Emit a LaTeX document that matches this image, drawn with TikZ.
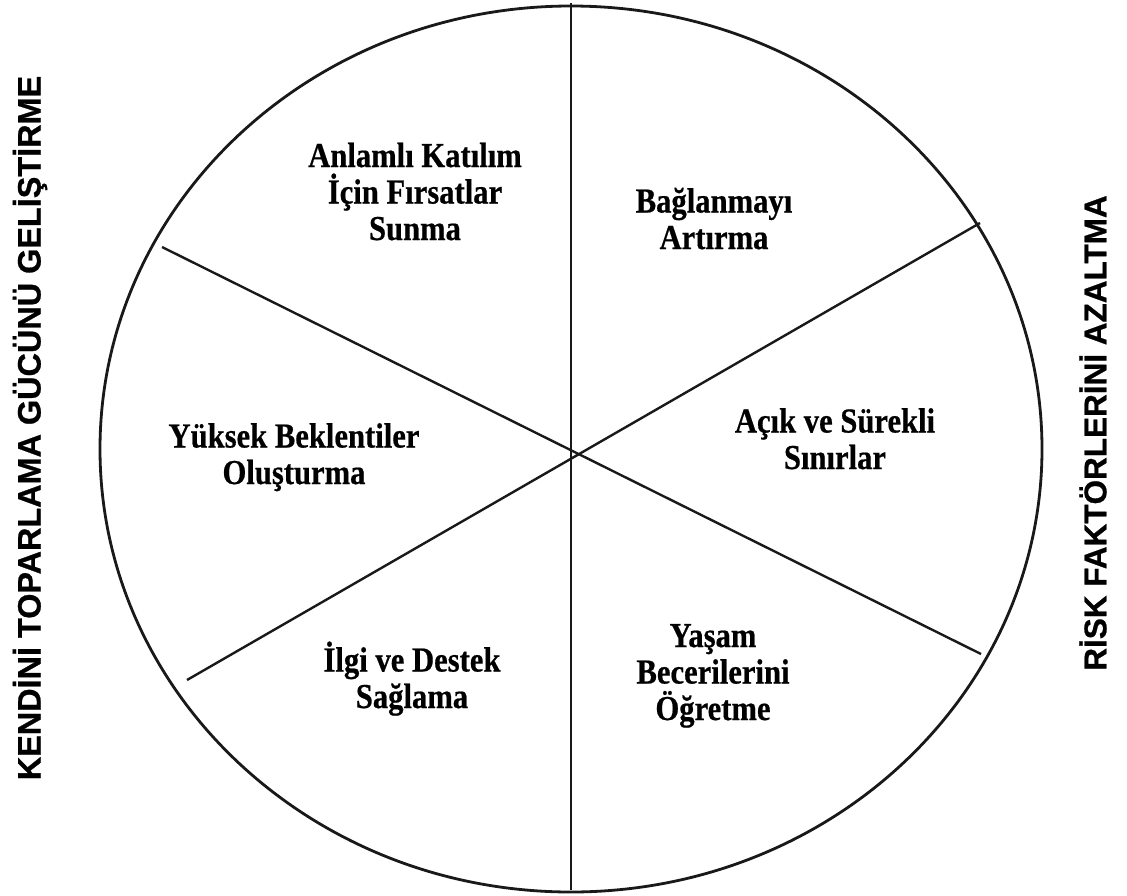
\documentclass[tikz,border=0pt]{standalone}
\usepackage{fontspec}
\usetikzlibrary{shapes.geometric}
\setmainfont{Liberation Serif}[BoldFeatures={FakeBold=0.6}]
\newfontfamily\sidefont{Liberation Sans}[BoldFeatures={FakeBold=0.8}]
\begin{document}
\begin{tikzpicture}[x=1pt,y=-1pt,
  seg/.style={font=\bfseries\fontsize{35}{36.5}\selectfont, align=center, inner sep=0pt, xscale=0.875, transform shape, anchor=base},
  side/.style={font=\sidefont\bfseries\fontsize{31.5}{36}\selectfont, rotate=90, inner sep=0pt},
  rim/.style={draw=black!90, line width=2.8pt},
  spoke/.style={draw=black!90, line width=2.4pt}]
\useasboundingbox (0,0) rectangle (1127,895);
\node[rim, ellipse, minimum width=942pt, minimum height=886pt, inner sep=0pt] (c) at (571,449) {};
\coordinate (vt) at (571,3);
\coordinate (vb) at (571,890);
\coordinate (a1) at (162,247);
\coordinate (a2) at (981,654);
\coordinate (b1) at (187,680);
\coordinate (b2) at (980,223);
\draw[spoke] (vt) -- (vb);
\draw[spoke] (a1) -- (a2);
\draw[spoke] (b1) -- (b2);
\node[seg] (s1) at (415,240) {Anlamlı Katılım\\İçin Fırsatlar\\Sunma};
\node[seg] (s2) at (714,249) {Bağlanmayı\\Artırma};
\node[seg] (s3) at (835,469) {Açık ve Sürekli\\Sınırlar};
\node[seg] (s4) at (294,484) {Yüksek Beklentiler\\Oluşturma};
\node[seg] (s5) at (412,708) {İlgi ve Destek\\Sağlama};
\node[seg] (s6) at (713,720) {Yaşam\\Becerilerini\\Öğretme};
\node[side, font=\sidefont\bfseries\fontsize{32.4}{36}\selectfont] (L) at (30,428) {KENDİNİ TOPARLAMA GÜCÜNÜ GELİŞTİRME};
\node[side] (R) at (1093,433) {RİSK FAKTÖRLERİNİ AZALTMA};
\end{tikzpicture}
\end{document}
